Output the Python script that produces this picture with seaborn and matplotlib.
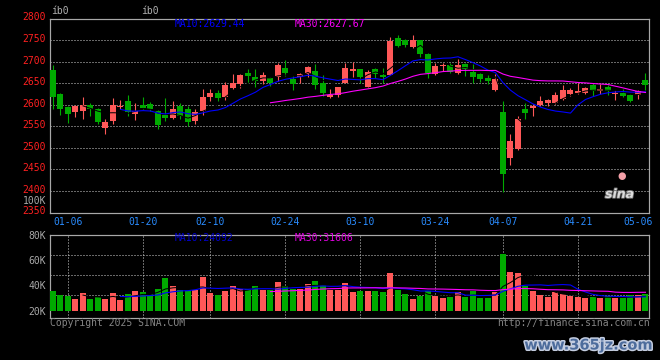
import numpy as np
import pandas as pd
import matplotlib
matplotlib.use("Agg")
import matplotlib.pyplot as plt
import matplotlib.patheffects as pe
import matplotlib.transforms as mtransforms
import seaborn as sns

# ---------------- data ----------------
holidays = ["2025-01-28", "2025-01-29", "2025-01-30", "2025-01-31", "2025-02-03",
            "2025-02-04", "2025-04-04", "2025-05-01", "2025-05-02", "2025-05-05"]
days = pd.bdate_range("2025-01-02", "2025-05-07")
days = days[~days.isin(pd.to_datetime(holidays))]
dates = [d.strftime("%m-%d") for d in days]

opens = [2680, 2625, 2594, 2582, 2586, 2600, 2589, 2545, 2562, 2595,
         2609, 2579, 2600, 2602, 2586, 2576, 2569, 2596, 2589, 2562,
         2585, 2618, 2628, 2619, 2638, 2649, 2674, 2664, 2654, 2662,
         2664, 2686, 2660, 2665, 2672, 2679, 2651, 2618, 2623, 2651,
         2678, 2682, 2642, 2682, 2669, 2670, 2755, 2749, 2734, 2749,
         2717, 2671, 2689, 2691, 2673, 2694, 2676, 2671, 2662, 2633,
         2582, 2476, 2498, 2591, 2592, 2600, 2605, 2604, 2614, 2625,
         2627, 2628, 2646, 2631, 2642, 2625, 2627, 2623, 2623, 2657]
highs = [2692, 2627, 2598, 2599, 2619, 2604, 2593, 2567, 2615, 2610,
         2623, 2604, 2617, 2607, 2588, 2615, 2608, 2604, 2596, 2589,
         2637, 2637, 2633, 2652, 2671, 2672, 2684, 2683, 2675, 2665,
         2697, 2704, 2667, 2674, 2690, 2694, 2669, 2636, 2642, 2697,
         2699, 2684, 2680, 2686, 2686, 2758, 2761, 2752, 2761, 2751,
         2720, 2696, 2697, 2696, 2707, 2696, 2694, 2673, 2669, 2671,
         2608, 2531, 2575, 2605, 2602, 2621, 2613, 2630, 2646, 2638,
         2650, 2642, 2650, 2648, 2646, 2633, 2636, 2625, 2634, 2673]
lows = [2589, 2577, 2558, 2572, 2566, 2575, 2555, 2533, 2556, 2589,
        2573, 2564, 2590, 2585, 2543, 2562, 2566, 2566, 2550, 2556,
        2577, 2608, 2608, 2610, 2636, 2639, 2650, 2642, 2647, 2643,
        2655, 2667, 2635, 2651, 2665, 2637, 2621, 2615, 2618, 2650,
        2664, 2650, 2641, 2661, 2651, 2669, 2733, 2735, 2731, 2711,
        2663, 2669, 2679, 2674, 2671, 2667, 2650, 2653, 2647, 2631,
        2397, 2460, 2494, 2566, 2573, 2596, 2598, 2602, 2611, 2621,
        2625, 2625, 2621, 2625, 2623, 2610, 2619, 2607, 2613, 2634]
closes = [2619, 2591, 2579, 2598, 2600, 2589, 2559, 2559, 2600, 2598,
          2583, 2585, 2592, 2589, 2552, 2569, 2591, 2573, 2559, 2583,
          2619, 2628, 2615, 2646, 2651, 2669, 2666, 2655, 2670, 2651,
          2693, 2674, 2647, 2672, 2688, 2646, 2628, 2623, 2640, 2686,
          2682, 2665, 2676, 2671, 2664, 2747, 2736, 2738, 2751, 2717,
          2673, 2689, 2693, 2676, 2692, 2682, 2665, 2660, 2655, 2660,
          2439, 2515, 2566, 2581, 2596, 2608, 2610, 2623, 2634, 2634,
          2631, 2638, 2631, 2637, 2631, 2627, 2621, 2608, 2631, 2646]
volumes_k = [35.2, 32.1, 31.6, 29.0, 33.7, 29.0, 31.1, 29.0, 33.7, 28.3,
             32.9, 35.2, 34.4, 32.9, 37.5, 45.8, 39.8, 36.0, 35.2, 36.0,
             46.6, 33.7, 32.1, 35.2, 39.8, 36.8, 37.5, 39.8, 36.0, 36.0,
             43.0, 39.8, 37.5, 37.5, 41.4, 43.7, 40.6, 36.7, 36.5, 41.6,
             34.7, 35.4, 35.4, 35.4, 34.7, 50.0, 36.0, 33.1, 29.0, 31.6,
             35.4, 31.6, 30.0, 30.6, 34.7, 30.8, 35.4, 30.3, 30.3, 35.0,
             64.8, 50.8, 50.0, 39.8, 35.4, 32.1, 30.8, 34.7, 32.9, 31.6,
             30.8, 30.0, 30.8, 30.0, 31.4, 30.0, 29.7, 32.1, 32.1, 32.9]

date_ticks = ["01-06", "01-20", "02-10", "02-24", "03-10", "03-24", "04-07", "04-21", "05-06"]
price_ticks = [2350, 2400, 2450, 2500, 2550, 2600, 2650, 2700, 2750, 2800]
vol_ticks = [20000, 40000, 60000, 80000]
vol_tick_labels = ["20K", "40K", "60K", "80K"]

ma_price_text = ["MA10:2629.44", "MA30:2627.67"]
ma_vol_text = ["MA10:24092", "MA30:31606"]

# ---------------- styling ----------------
RED = "#ff5858"
GREEN = "#00aa00"
FONT = "DejaVu Sans Mono"
plt.rcParams["font.family"] = [FONT, "DejaVu Sans"]
plt.rcParams["font.size"] = 7
px = 0.72  # one pixel in points

n = len(dates)
idx = np.arange(n)
o = np.array(opens, float); h = np.array(highs, float)
l = np.array(lows, float); c = np.array(closes, float)
up = c >= o
vol = np.array(volumes_k) * 1000

df = pd.DataFrame({"date": dates, "open": o, "high": h, "low": l, "close": c,
                   "vol": vol, "dir": np.where(up, "up", "down")})
df["ma5"] = df["close"].rolling(5).mean()
df["ma10"] = df["close"].rolling(10).mean()
df["ma30"] = df["close"].rolling(30).mean()
df["vma5"] = df["vol"].rolling(5).mean()
df["vma10"] = df["vol"].rolling(10).mean()
df["vma30"] = df["vol"].rolling(30).mean()

W, H = 660, 360
fig = plt.figure(figsize=(6.6, 3.6), dpi=100, facecolor="black")
ax1 = fig.add_axes([50 / W, 1 - 212.5 / H, 599 / W, 194 / H])
ax2 = fig.add_axes([50 / W, 1 - 318 / H, 599 / W, 83.3 / H])

tick_pos = [dates.index(t) for t in date_ticks]
xlim = (-0.4, n - 1 + 0.47)

for ax in (ax1, ax2):
    ax.set_facecolor("black")
    for s in ax.spines.values():
        s.set_color("#a8a8a8")
        s.set_linewidth(1.2 * px)

# ---------------- price panel ----------------
colors = np.where(up, RED, GREEN)
ax1.vlines(idx, l, h, colors=colors, linewidth=1.1 * px, zorder=2)
body = np.maximum(np.abs(c - o), 2.3)
ax1.bar(idx, body, bottom=np.minimum(o, c), width=0.8, color=colors,
        linewidth=0, zorder=3)
sns.lineplot(x=idx, y=df["ma5"], color="black", linewidth=1 * px, ax=ax1, zorder=4)
sns.lineplot(x=idx, y=df["ma10"], color="#0000ff", linewidth=1.1 * px, ax=ax1, zorder=4)
sns.lineplot(x=idx, y=df["ma30"], color="#ff00ff", linewidth=1.1 * px, ax=ax1, zorder=4)

ax1.set_xlim(*xlim)
ax1.set_ylim(price_ticks[0], price_ticks[-1])
ax1.set_yticks(price_ticks)
ax1.set_yticklabels([str(t) for t in price_ticks])
ax1.set_xticks(tick_pos)
ax1.set_xticklabels(date_ticks)
ax1.set_xticks(tick_pos[:-1], minor=True)
ax1.set_xlabel(""); ax1.set_ylabel("")
ax1.tick_params(axis="y", colors="#ff2020", length=0, pad=3, labelsize=7)
ax1.tick_params(axis="x", which="both", colors="#2a8cff", length=0, pad=3, labelsize=7)
ax1.grid(False)
ax1.grid(True, which="major", axis="y", color="#d0d0d0", linestyle=(0, (1, 2)), linewidth=1 * px)
ax1.grid(True, which="minor", axis="x", color="#d0d0d0", linestyle=(0, (1, 2)), linewidth=1 * px)
ax1.set_axisbelow(True)
# price labels sit slightly above their grid lines, as in the reference
up_shift = mtransforms.ScaledTranslation(0, 2 / 100, fig.dpi_scale_trans)
for lab in ax1.get_yticklabels():
    lab.set_transform(lab.get_transform() + up_shift)

ax1.text(0.2087, 0.972, ma_price_text[0], transform=ax1.transAxes, color="#0000ff",
         ha="left", va="center", fontsize=7)
ax1.text(0.409, 0.972, ma_price_text[1], transform=ax1.transAxes, color="#ff00ff",
         ha="left", va="center", fontsize=7)

# sina logo watermark
ax1.text(0.975, 0.06, "sina", transform=ax1.transAxes, color="#dcdcdc", ha="right",
         va="bottom", fontsize=9, fontstyle="italic", fontweight="bold", family="DejaVu Sans",
         path_effects=[pe.withStroke(linewidth=1.2, foreground="#707070")], zorder=6)
ax1.text(0.962, 0.16, "\u25cf", transform=ax1.transAxes, color="#f4a0a8", ha="right",
         va="bottom", fontsize=7, family="DejaVu Sans", zorder=6)

# ---------------- volume panel ----------------
sns.barplot(data=df, x="date", y="vol", hue="dir", order=dates,
            palette={"up": RED, "down": GREEN}, dodge=False, legend=False,
            width=0.8, saturation=1, errorbar=None, linewidth=0, ax=ax2, zorder=3)
base = vol_ticks[0]
for p in ax2.patches:
    hh = p.get_height()
    p.set_y(base)
    p.set_height(hh - base)

sns.lineplot(x=idx, y=df["vma5"], color="black", linewidth=1 * px, ax=ax2, zorder=4)
sns.lineplot(x=idx, y=df["vma10"], color="#0000ff", linewidth=1.1 * px, ax=ax2, zorder=4)
sns.lineplot(x=idx, y=df["vma30"], color="#ff00ff", linewidth=1.1 * px, ax=ax2, zorder=4)

ax2.set_xlim(*xlim)
ax2.set_ylim(14240, 80000)
ax2.set_yticks(vol_ticks)
ax2.set_yticklabels(vol_tick_labels)
ax2.set_xticks(tick_pos[:-1])
ax2.set_xticklabels([])
ax2.set_xlabel(""); ax2.set_ylabel("")
ax2.tick_params(axis="y", colors="#a8a8a8", length=0, pad=3, labelsize=7)
ax2.tick_params(axis="x", length=0)
ax2.grid(False)
ax2.grid(True, axis="x", color="#d0d0d0", linestyle=(0, (1, 2)), linewidth=1 * px)
for fr in (0.753, 0.513, 0.273):
    ax2.plot([0, 1], [fr, fr], transform=ax2.transAxes, color="#d0d0d0",
             linestyle=(0, (1, 2)), linewidth=1 * px, zorder=1)
ax2.set_axisbelow(True)

ax2.text(0.2087, 0.957, ma_vol_text[0], transform=ax2.transAxes, color="#0000cc",
         ha="left", va="center", fontsize=7)
ax2.text(0.409, 0.957, ma_vol_text[1], transform=ax2.transAxes, color="#e000e0",
         ha="left", va="center", fontsize=7)

# ---------------- figure texts ----------------
fig.text(46 / W, 1 - 200.5 / H, "100K", color="#a8a8a8", ha="right", va="center", fontsize=7)
fig.text(51 / W, 1 - 11 / H, "íb0", color="#b0b0b0", ha="left", va="center", fontsize=7)
fig.text(141 / W, 1 - 11 / H, "íb0", color="#b0b0b0", ha="left", va="center", fontsize=7)
fig.text(50 / W, 1 - 323.5 / H, "Copyright 2025 SINA.COM", color="#858585",
         ha="left", va="center", fontsize=7)
fig.text(650 / W, 1 - 323.5 / H, "http://finance.sina.com.cn", color="#858585",
         ha="right", va="center", fontsize=7)
fig.text(653 / W, 1 - 345 / H, "www.365jz.com", color="#4d6c9c", ha="right", va="center",
         fontsize=10.5, fontweight="bold", family="DejaVu Sans",
         path_effects=[pe.withStroke(linewidth=2.2, foreground="#c4cde0")])

fig.savefig("out.png", dpi=100, facecolor="black")
